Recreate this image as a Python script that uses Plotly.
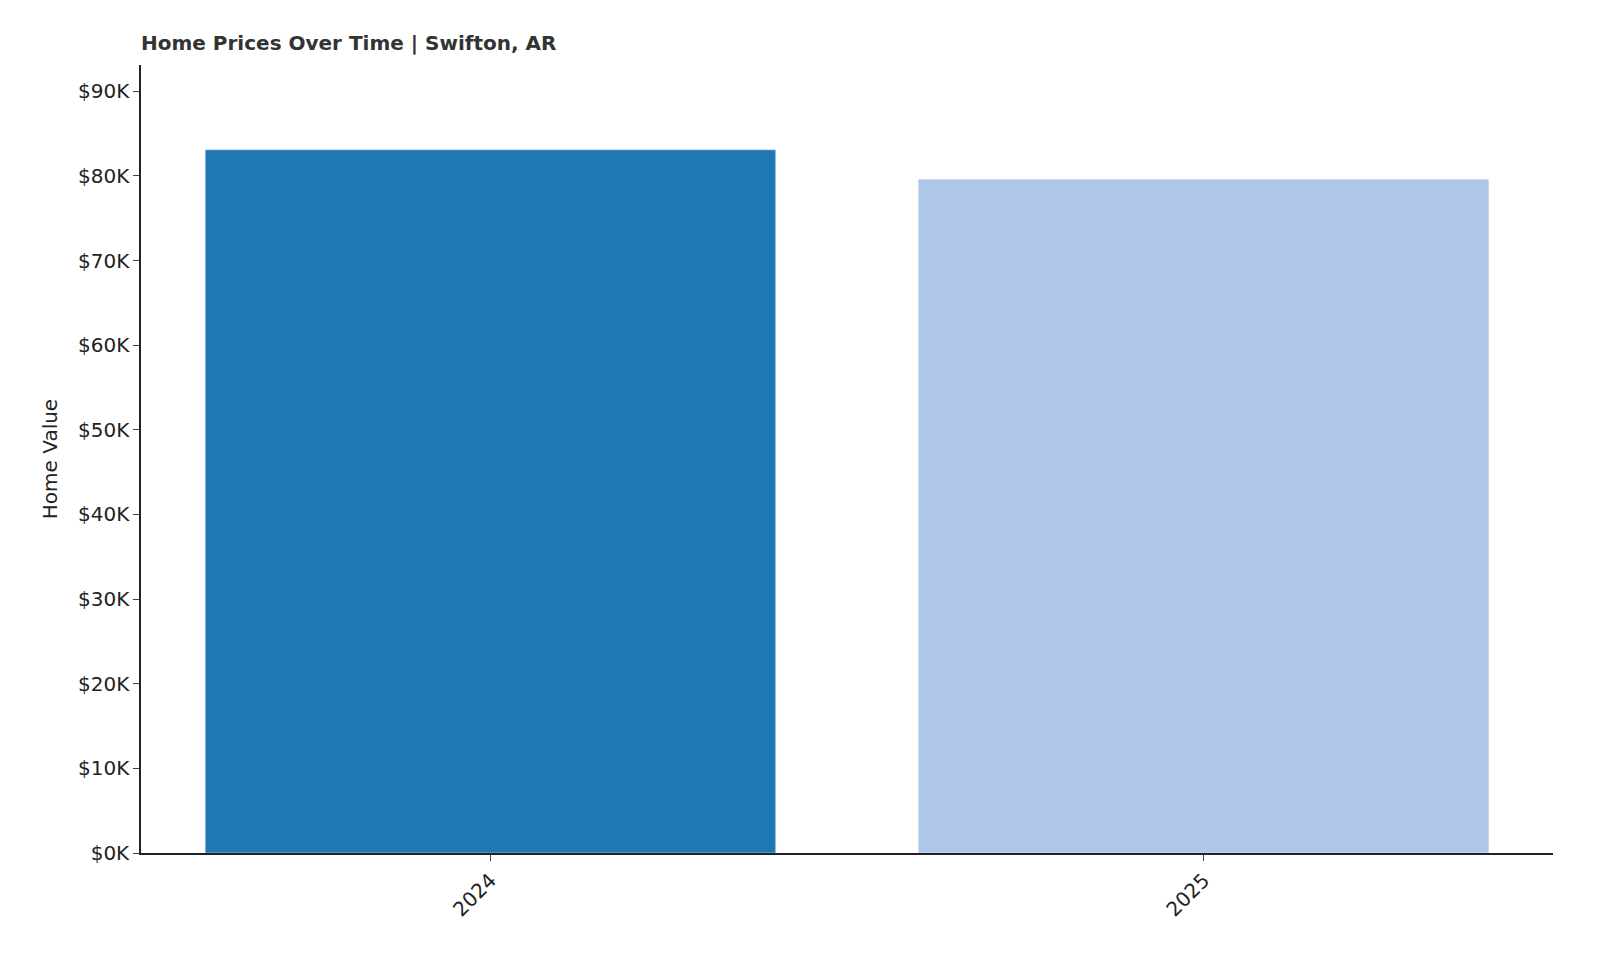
import plotly.graph_objects as go

# Data
years = ["2024", "2025"]
values = [83082, 79596]
labels = ["$83,082", "$79,596<br>-4.20%"]
colors = ["#1f77b4", "#aec7e8"]
y_ticks = [0, 10000, 20000, 30000, 40000, 50000, 60000, 70000, 80000, 90000]
y_tick_text = ["$0K", "$10K", "$20K", "$30K", "$40K", "$50K", "$60K", "$70K", "$80K", "$90K"]

fig = go.Figure()
fig.add_trace(go.Bar(x=years, y=values, marker_color=colors, width=0.8, showlegend=False))

# Rotated value labels above each bar
for yr, v, t in zip(years, values, labels):
    fig.add_annotation(x=yr, y=v, text=t, textangle=-90, showarrow=False,
                       yanchor="bottom", yshift=14, font=dict(size=13, color="#333"))

fig.update_layout(
    width=1600, height=960,
    paper_bgcolor="white", plot_bgcolor="white",
    font=dict(family="DejaVu Sans", color="#222"),
    margin=dict(l=133, r=55, t=57, b=115),
    title=dict(text="<b>Home Prices Over Time | Swifton, AR</b>", x=133/1600, xanchor="left",
               y=1 - 35/960, yanchor="middle", font=dict(size=20, color="#333")),
    xaxis=dict(range=[-0.49, 1.49], tickangle=-45, ticks="outside", ticklen=6,
               showline=True, linecolor="#222", linewidth=1.5, tickfont=dict(size=20)),
    yaxis=dict(range=[0, 93100], tickvals=y_ticks, ticktext=y_tick_text, ticks="outside",
               ticklen=6, showline=True, linecolor="#222", linewidth=1.5, showgrid=False,
               zeroline=False, tickfont=dict(size=20),
               title=dict(text="Home Value", font=dict(size=20))),
)
fig.write_html("out.html")
